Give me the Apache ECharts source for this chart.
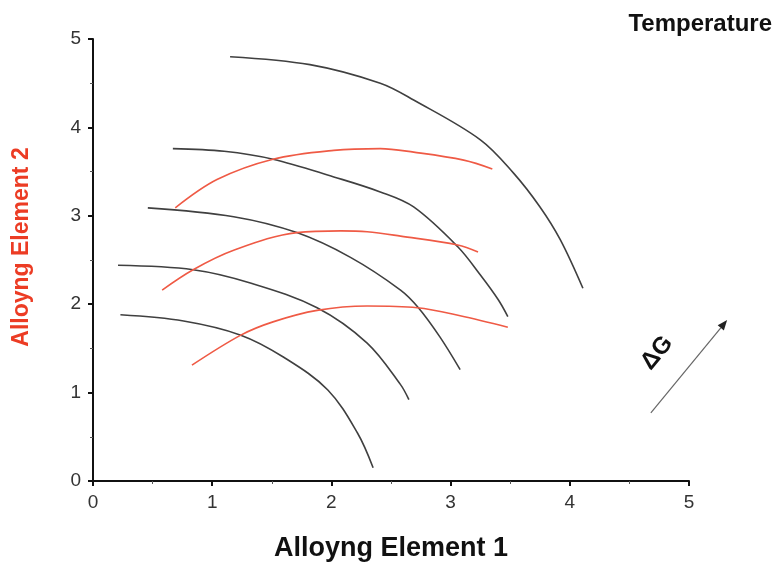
<!DOCTYPE html>
<html>
<head>
<meta charset="utf-8">
<script src="https://cdn.jsdelivr.net/npm/echarts@6/dist/echarts.min.js"></script>
<style>
  html, body { margin: 0; padding: 0; background: #fff; }
  #main { width: 772px; height: 564px; }
</style>
</head>
<body>
<div id="main"></div>
<script>
// black iso-temperature curves, outer to inner
const blackA = [[1.15,4.80],[1.82,4.71],[2.41,4.50],[2.69,4.31],[3.25,3.86],[3.53,3.48],[3.75,3.10],[3.92,2.73],[4.11,2.18]];
const blackB = [[0.67,3.76],[1.10,3.73],[1.51,3.64],[2.02,3.44],[2.41,3.27],[2.69,3.10],[3.06,2.65],[3.25,2.33],[3.40,2.05],[3.48,1.86]];
const blackC = [[0.46,3.09],[1.18,2.99],[1.71,2.81],[2.16,2.53],[2.58,2.16],[2.73,1.96],[2.91,1.63],[3.08,1.26]];
const blackD = [[0.21,2.44],[0.84,2.39],[1.32,2.24],[1.88,1.96],[2.30,1.56],[2.58,1.09],[2.65,0.92]];
const blackE = [[0.23,1.88],[0.76,1.81],[1.24,1.65],[1.60,1.40],[1.97,1.03],[2.22,0.54],[2.35,0.15]];
// red curves, top to bottom
const red1 = [[0.69,3.09],[1.04,3.41],[1.51,3.64],[2.02,3.74],[2.41,3.76],[2.69,3.72],[3.11,3.63],[3.35,3.53]];
const red2 = [[0.58,2.16],[0.84,2.39],[1.18,2.61],[1.71,2.81],[2.08,2.83],[2.30,2.82],[2.58,2.77],[3.06,2.67],[3.23,2.59]];
const red3 = [[0.83,1.31],[1.24,1.65],[1.51,1.80],[1.88,1.93],[2.30,1.98],[2.72,1.96],[3.08,1.87],[3.48,1.74]];
const xTicks = [0, 1, 2, 3, 4, 5];
const yTicks = [0, 1, 2, 3, 4, 5];
// delta-G arrow, in data units
const arrowFrom = [4.68, 0.77];
const arrowTo = [5.32, 1.82];

const font = "'Liberation Sans', Arial, Helvetica, sans-serif";
const chart = echarts.init(document.getElementById('main'));

function curve(data, color) {
  return {
    type: 'line',
    data: data,
    smooth: 0.35,
    showSymbol: false,
    silent: true,
    lineStyle: { color: color, width: 1.6 }
  };
}

function axis(ticks) {
  return {
    type: 'value',
    min: ticks[0],
    max: ticks[ticks.length - 1],
    interval: 1,
    axisLine: { show: true, lineStyle: { color: '#111', width: 2 } },
    axisTick: { show: true, inside: false, length: 5, lineStyle: { color: '#111', width: 2 } },
    minorTick: { show: true, splitNumber: 2, length: 3, lineStyle: { color: '#555', width: 1 } },
    splitLine: { show: false }
  };
}

const option = {
  backgroundColor: '#fff',
  animation: false,
  grid: { left: 93, right: 83, top: 39, bottom: 83, outerBoundsMode: 'none', containLabel: false },
  xAxis: Object.assign(axis(xTicks), {
    name: 'Alloyng Element 1',
    nameLocation: 'middle',
    nameGap: 54,
    nameTextStyle: { color: '#111', fontSize: 27, fontWeight: 'bold', fontFamily: font },
    axisLabel: { color: '#333', fontSize: 19, fontFamily: font, margin: 12 }
  }),
  yAxis: Object.assign(axis(yTicks), {
    name: 'Alloyng Element 2',
    nameLocation: 'middle',
    nameGap: 60,
    nameTextStyle: { color: '#ec3c24', fontSize: 23, fontWeight: 'bold', fontFamily: font, padding: [0, 0, 0, 26] },
    axisLabel: { color: '#333', fontSize: 19, fontFamily: font, margin: 12 }
  }),
  series: [
    curve(blackA, '#404040'),
    curve(blackB, '#404040'),
    curve(blackC, '#404040'),
    curve(blackD, '#404040'),
    curve(blackE, '#404040'),
    curve(red1, '#ef5a45'),
    curve(red2, '#ef5a45'),
    curve(red3, '#ef5a45')
  ]
};
chart.setOption(option);

// annotations: temperature label and delta-G arrow
const p0 = chart.convertToPixel({ gridIndex: 0 }, arrowFrom);
const p1 = chart.convertToPixel({ gridIndex: 0 }, arrowTo);
const ang = Math.atan2(p0[1] - p1[1], p1[0] - p0[0]);
const headLen = 10, headW = 4;
const ux = Math.cos(ang), uy = -Math.sin(ang);
const bx = p1[0] - ux * headLen, by = p1[1] - uy * headLen;
chart.setOption({
  graphic: [
    {
      type: 'text',
      right: 0, top: 12,
      style: { text: 'Temperature', fill: '#111', font: 'bold 24px ' + font }
    },
    {
      type: 'line',
      shape: { x1: p0[0], y1: p0[1], x2: bx, y2: by },
      style: { stroke: '#666', lineWidth: 1.2 }
    },
    {
      type: 'polygon',
      shape: { points: [[p1[0], p1[1]], [bx - uy * headW, by + ux * headW], [bx + uy * headW, by - ux * headW]] },
      style: { fill: '#222' }
    },
    {
      type: 'text',
      x: 657, y: 353,
      rotation: ang,
      style: { text: 'ΔG', fill: '#111', font: 'bold 24px ' + font, align: 'center', verticalAlign: 'middle' }
    }
  ]
});
</script>
</body>
</html>
